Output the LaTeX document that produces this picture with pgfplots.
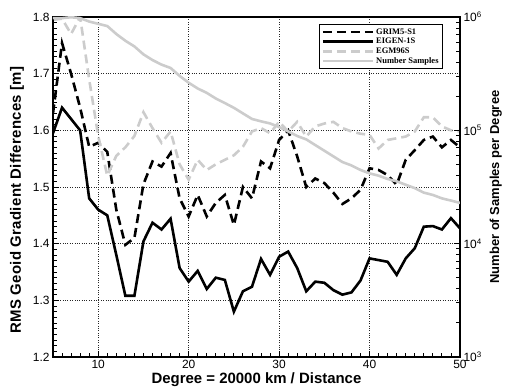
\documentclass[border=0pt]{standalone}
\usepackage{fontspec}
\setmainfont{Liberation Sans}
\newfontfamily\legfont{Liberation Serif}
\newfontfamily\ylabfont[LetterSpace=2]{Liberation Sans}
\usepackage{pgfplots}
\pgfplotsset{compat=1.18}
\definecolor{lg}{gray}{0.8}
\begin{document}
\begin{tikzpicture}
\useasboundingbox (-53bp,-32bp) rectangle (452bp,357bp);
\begin{axis}[scale only axis, width=407bp, height=340bp, at={(0,0)}, anchor=south west,
  xmin=5, xmax=50, ymin=1.2, ymax=1.8,
  xtick={10,20,30,40,50}, minor xtick={6,...,49},
  ytick={1.2,1.3,1.4,1.5,1.6,1.7,1.8}, minor y tick num=9,
  tick align=inside, xtick pos=left, ytick pos=left,
  major tick length=6bp, minor tick length=4bp,
  axis line style={line width=1.8bp},
  every tick/.style={black, line width=0.9bp},
  grid=major, major grid style={dotted, black!85, line width=0.8bp},
  /pgf/number format/assume math mode=true,
  yticklabel style={/pgf/number format/fixed, /pgf/number format/fixed zerofill, /pgf/number format/precision=1},
  tick label style={font=\fontsize{12}{14}\selectfont},
  xlabel={Degree = 20000 km / Distance},
  ylabel={RMS Geoid Gradient Differences [m]},
  xlabel style={at={(axis description cs:0.5,-0.068)}, anchor=center, font=\bfseries\fontsize{15}{17}\selectfont},
  ylabel style={at={(axis description cs:-0.0885,0.462)}, anchor=center, font=\ylabfont\bfseries\fontsize{15}{17}\selectfont},
  legend style={at={(0.958,0.979)}, anchor=north east, draw=black, line width=0.7bp, fill=white,
    font=\legfont\bfseries\fontsize{8.5}{9.5}\selectfont, inner sep=2bp, row sep=-1.5bp},
  legend cell align=left,
  legend image code/.code={\draw[#1] (0bp,0bp) -- (50bp,0bp);},
]
\addplot[black, line width=2.6bp, dash pattern=on 9bp off 5bp] coordinates {
(5,1.63) (6,1.754) (7,1.70) (8,1.64) (9,1.571) (10,1.578) (11,1.562) (12,1.46) (13,1.398) (14,1.41)
(15,1.505) (16,1.545) (17,1.536) (18,1.56) (19,1.48) (20,1.448) (21,1.486) (22,1.448) (23,1.472) (24,1.486)
(25,1.433) (26,1.50) (27,1.48) (28,1.545) (29,1.533) (30,1.583) (31,1.60) (32,1.554) (33,1.50) (34,1.515)
(35,1.507) (36,1.49) (37,1.47) (38,1.48) (39,1.495) (40,1.533) (41,1.53) (42,1.521) (43,1.504) (44,1.548)
(45,1.565) (46,1.583) (47,1.589) (48,1.57) (49,1.583) (50,1.57)};
\addlegendentry{GRIM5-S1}
\addplot[black, line width=2.6bp] coordinates {
(5,1.595) (6,1.64) (7,1.62) (8,1.60) (9,1.48) (10,1.46) (11,1.45) (12,1.38) (13,1.308) (14,1.308)
(15,1.404) (16,1.437) (17,1.425) (18,1.444) (19,1.357) (20,1.333) (21,1.352) (22,1.32) (23,1.34) (24,1.336)
(25,1.28) (26,1.316) (27,1.324) (28,1.373) (29,1.345) (30,1.377) (31,1.386) (32,1.357) (33,1.316) (34,1.333)
(35,1.331) (36,1.318) (37,1.31) (38,1.314) (39,1.335) (40,1.374) (41,1.371) (42,1.368) (43,1.345) (44,1.374)
(45,1.392) (46,1.43) (47,1.431) (48,1.425) (49,1.445) (50,1.427)};
\addlegendentry{EIGEN-1S}
\addplot[lg, line width=2.6bp, dash pattern=on 9bp off 5bp] coordinates {
(5,1.795) (6,1.797) (7,1.77) (8,1.80) (9,1.69) (10,1.59) (11,1.52) (12,1.555) (13,1.57) (14,1.59)
(15,1.632) (16,1.604) (17,1.578) (18,1.598) (19,1.54) (20,1.513) (21,1.548) (22,1.53) (23,1.54) (24,1.548)
(25,1.556) (26,1.571) (27,1.598) (28,1.604) (29,1.595) (30,1.615) (31,1.598) (32,1.615) (33,1.589) (34,1.607)
(35,1.612) (36,1.615) (37,1.604) (38,1.598) (39,1.594) (40,1.592) (41,1.568) (42,1.583) (43,1.586) (44,1.589)
(45,1.598) (46,1.623) (47,1.623) (48,1.607) (49,1.60) (50,1.598)};
\addlegendentry{EGM96S}
\addlegendimage{lg, line width=2.6bp}
\addlegendentry{Number Samples}
\end{axis}
\begin{axis}[scale only axis, width=407bp, height=340bp, at={(0,0)}, anchor=south west,
  xmin=5, xmax=50, ymode=log, ymin=1e3, ymax=1e6,
  xtick=\empty, ytick={1e3,1e4,1e5,1e6},
  yticklabels={10\textsuperscript{3},10\textsuperscript{4},10\textsuperscript{5},10\textsuperscript{6}},
  ytick pos=right, yticklabel pos=right,
  tick align=inside,
  major tick length=6bp, minor tick length=4bp,
  axis line style={line width=1.8bp},
  every tick/.style={black, line width=0.9bp},
  tick label style={font=\fontsize{12}{14}\selectfont},
  ylabel={Number of Samples per Degree},
  ylabel style={at={(axis description cs:1.088,0.5)}, anchor=center, font=\bfseries\fontsize{13}{15}\selectfont},
]
\addplot[lg, line width=2.6bp] coordinates {
(5,977000) (6,977000) (7,995000) (8,977000) (9,912000) (10,871000) (11,832000) (12,708000) (13,617000) (14,550000)
(15,468000) (16,417000) (17,380000) (18,355000) (19,302000) (20,263000) (21,234000) (22,214000) (23,191000) (24,174000)
(25,158000) (26,141000) (27,126000) (28,120000) (29,115000) (30,107000) (31,97700) (32,89100) (33,83200) (34,74100)
(35,66100) (36,58900) (37,52500) (38,49000) (39,44700) (40,41700) (41,39800) (42,37200) (43,35500) (44,33100)
(45,30900) (46,28200) (47,26900) (48,25100) (49,24000) (50,22900)};
\end{axis}
\end{tikzpicture}
\end{document}
